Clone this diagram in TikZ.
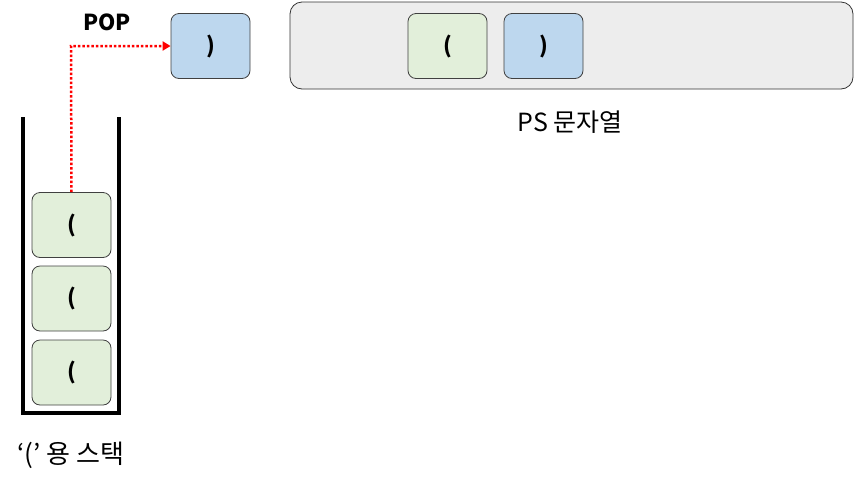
\documentclass[tikz,border=0pt]{standalone}
\usepackage{fontspec}
\setmainfont{Noto Sans CJK KR}
\usetikzlibrary{arrows.meta}
\definecolor{gfill}{HTML}{E2EFDA}
\definecolor{bfill}{HTML}{BDD7EE}
\definecolor{grayfill}{HTML}{EDEDED}
\begin{document}
\begin{tikzpicture}[x=1pt,y=-1pt,
  cell/.style={draw=black!75,line width=0.8pt,rounded corners=8pt,minimum width=79pt,minimum height=65pt,inner sep=0pt,font=\fontsize{22}{26}\selectfont\bfseries},
  gcell/.style={cell,fill=gfill},
  bcell/.style={cell,fill=bfill},
  lbl/.style={font=\fontsize{25}{30}\selectfont,inner sep=0pt}]
\useasboundingbox (0,0) rectangle (854,483);
% string container
\node[draw=black!80,line width=0.8pt,fill=grayfill,rounded corners=12pt,minimum width=563pt,minimum height=87pt,inner sep=0pt] (ps) at (571.5,45.5) {};
\node[gcell] (s1) at (447.5,46) {(};
\node[bcell] (s2) at (543.5,46) {)};
\node[lbl] (pslbl) at (570,122) {PS 문자열};
% popped
\node[bcell] (pop) at (210.5,46) {)};
% stack walls
\coordinate (wl) at (23,117);
\coordinate (wr) at (119,117);
\draw[line width=4pt] (wl) -- (23,413) -- (119,413) -- (wr);
\node[gcell] (c1) at (71.5,225) {(};
\node[gcell] (c2) at (71.5,298.5) {(};
\node[gcell] (c3) at (71.5,372.5) {(};
\node[lbl,font=\fontsize{26}{30}\selectfont] (stk) at (71,455) {‘(’ 용 스택};
\node[font=\fontsize{22}{26}\selectfont\bfseries,inner sep=0pt] (poplbl) at (107,22) {POP};
\coordinate (bend) at (71,46);
\draw[red,line width=2.5pt,dash pattern=on 2.5pt off 2pt,-{Triangle[length=8pt,width=9pt]}] (c1.north) -- (bend) -- (pop.west);
\end{tikzpicture}
\end{document}
